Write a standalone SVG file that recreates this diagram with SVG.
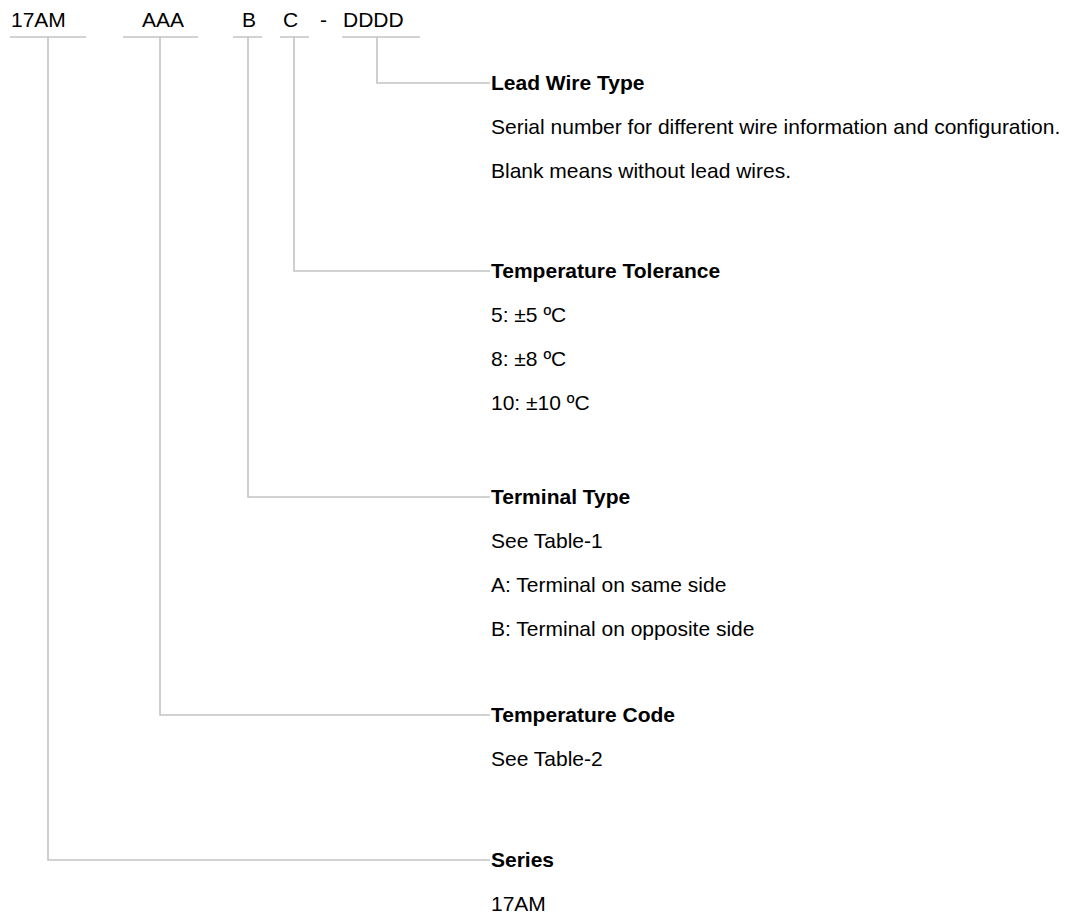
<svg xmlns="http://www.w3.org/2000/svg" width="1071" height="914" viewBox="0 0 1071 914">
<style>
text{font-family:"Liberation Sans",Arial,sans-serif;font-size:21px;fill:#000}
.h{font-weight:bold}
.ln{fill:none;stroke:#c4c4c4;stroke-width:1.6}
</style>
<rect width="1071" height="914" fill="#fff"/>
<g id="code">
<text x="11" y="27">17AM</text>
<text x="142" y="27">AAA</text>
<text x="242" y="27">B</text>
<text x="283" y="27">C</text>
<text x="320" y="27">-</text>
<text x="343" y="27">DDDD</text>
</g>
<g id="connectors">
<path class="ln" d="M10 37H86M123 37H198M233 37H262M280 37H309M342 37H420"/>
<path class="ln" d="M377 37V83H490"/>
<path class="ln" d="M294 37V271H490"/>
<path class="ln" d="M248 37V497H490"/>
<path class="ln" d="M160 37V715H490"/>
<path class="ln" d="M48 37V860H490"/>
</g>
<g id="lead-wire-type">
<text class="h" x="491" y="90">Lead Wire Type</text>
<text x="491" y="134">Serial number for different wire information and configuration.</text>
<text x="491" y="178">Blank means without lead wires.</text>
</g>
<g id="temperature-tolerance">
<text class="h" x="491" y="278">Temperature Tolerance</text>
<text x="491" y="322">5: ±5 ºC</text>
<text x="491" y="366">8: ±8 ºC</text>
<text x="491" y="410">10: ±10 ºC</text>
</g>
<g id="terminal-type">
<text class="h" x="491" y="504">Terminal Type</text>
<text x="491" y="548">See Table-1</text>
<text x="491" y="592">A: Terminal on same side</text>
<text x="491" y="636">B: Terminal on opposite side</text>
</g>
<g id="temperature-code">
<text class="h" x="491" y="722">Temperature Code</text>
<text x="491" y="766">See Table-2</text>
</g>
<g id="series">
<text class="h" x="491" y="867">Series</text>
<text x="491" y="911">17AM</text>
</g>
</svg>
